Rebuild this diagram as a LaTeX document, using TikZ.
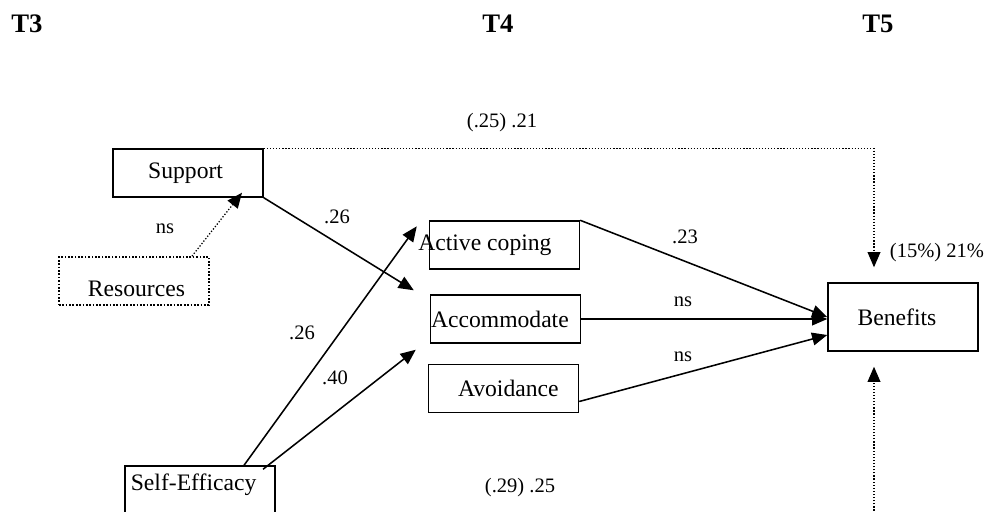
\documentclass[tikz,border=0pt]{standalone}
\usepackage{fontspec}
\setmainfont{Liberation Serif}
\usetikzlibrary{arrows.meta}

\tikzset{bx/.style={draw, line width=1pt, minimum width=3.75cm, minimum height=1.2cm, inner sep=0pt}}
\tikzset{bxt/.style={font=\fontsize{16.8}{20}\selectfont, inner sep=0pt}}
\tikzset{cf/.style={font=\fontsize{14.6}{17}\selectfont, inner sep=0pt}}
\tikzset{tl/.style={font=\fontsize{19}{22}\selectfont\bfseries, inner sep=0pt}}
\tikzset{pth/.style={-{Triangle[length=3.8mm,width=3.2mm]}, line width=1.1pt}}
\tikzset{dpth/.style={pth, dash pattern=on 0.9pt off 1.3pt, line width=0.9pt}}

\begin{document}
\begin{tikzpicture}[x=0.025cm, y=-0.025cm]
\useasboundingbox (0,0) rectangle (988,512);
\clip (0,0) rectangle (988,512);
% waves
\node[tl] (t3) at (27,24) {T3};
\node[tl] (t4) at (498,24) {T4};
\node[tl] (t5) at (878,24) {T5};
% variables
\node[bx, label={[bxt,xshift=-0.06cm]center:Support}] (sup) at (188,173) {};
\node[bx, dash pattern=on 1.2pt off 1.2pt, line width=1.2pt, label={[bxt,xshift=0.06cm,yshift=-0.2cm]center:Resources}] (res) at (134,281) {};
\node[bx, label={[bxt,xshift=-0.49cm]center:Active coping}] (cope) at (504.5,245) {};
\node[bx, label={[bxt,xshift=-0.14cm]center:Accommodate}] (acc) at (505.5,319) {};
\node[bx, label={[bxt,xshift=0.12cm]center:Avoidance}] (avo) at (503.5,388.5) {};
\node[bx, minimum height=1.7cm, label={[bxt,xshift=-0.15cm]center:Benefits}] (ben) at (903,317) {};
\node[bx, minimum height=1.5cm, label={[bxt,xshift=-0.16cm,yshift=0.27cm]center:Self-Efficacy}] (se) at (200,496) {};
% paths
\draw[pth] (sup.south east) -- ([shift={(-16,-4)}]acc.north west);
\draw[pth] ([xshift=1.1cm]se.north) -- ([shift={(-12,6)}]cope.north west);
\draw[pth] ([shift={(63,4)}]se.north) -- ([shift={(-14,6)}]acc.south west);
\draw[pth] (cope.north east) -- (ben.west);
\draw[pth] (acc.east) -- (acc.east -| ben.west);
\draw[pth] ([shift={(0,13)}]avo.east) -- ([shift={(0,18)}]ben.west);
\draw[dpth] ([shift={(58,0)}]res.north) -- ([shift={(54,-5)}]sup.south);
\draw[dpth] (sup.north east) -| ([shift={(-29,-15)}]ben.north);
\draw[dpth] (se.south) -- ++(0,20) -| ([shift={(-29,15)}]ben.south);
% coefficients
\node[cf] (c1) at (502,123) {(.25) .21};
\node[cf] (c2) at (165,229) {ns};
\node[cf] (c3) at (337,217) {.26};
\node[cf] (c4) at (302,333) {.26};
\node[cf] (c5) at (335,378) {.40};
\node[cf] (c6) at (685,237) {.23};
\node[cf] (c7) at (683,302) {ns};
\node[cf] (c8) at (683,357) {ns};
\node[cf] (c9) at (937,253) {(15\%) 21\%};
\node[cf] (c10) at (520,488) {(.29) .25};
\end{tikzpicture}
\end{document}
